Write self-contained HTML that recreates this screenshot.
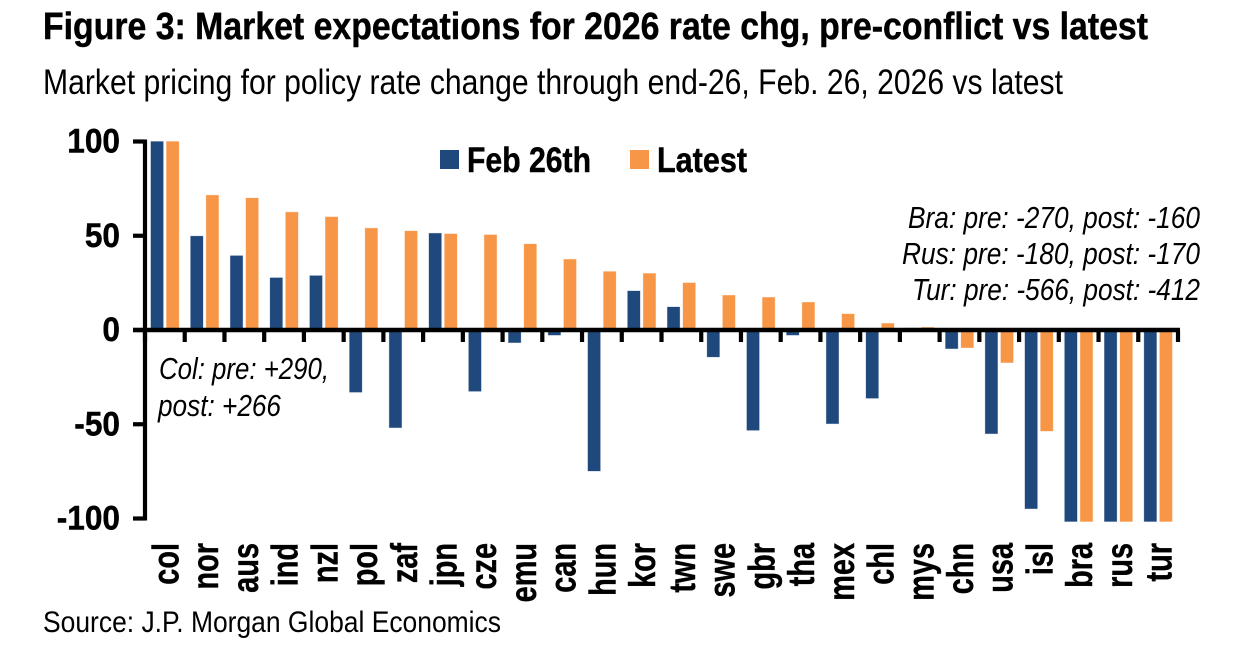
<!DOCTYPE html>
<html>
<head>
<meta charset="utf-8">
<style>
html,body{margin:0;padding:0;background:#fff;width:1245px;height:667px;overflow:hidden}
svg{display:block}
text{font-family:"Liberation Sans",Arial,sans-serif;fill:#000}
.b{font-weight:700;stroke:#000;stroke-width:0.45}
.i{font-style:italic}
</style>
</head>
<body>
<svg id="chart" width="1245" height="667" viewBox="0 0 1245 667" xmlns="http://www.w3.org/2000/svg">
<text class="b" x="43" y="39" font-size="38" textLength="1105" lengthAdjust="spacingAndGlyphs">Figure 3: Market expectations for 2026 rate chg, pre-conflict vs latest</text>
<text x="43" y="94" font-size="35" textLength="1020" lengthAdjust="spacingAndGlyphs">Market pricing for policy rate change through end-26, Feb. 26, 2026 vs latest</text>
<g id="bars"></g>
<g id="axes"></g>
<g>
<rect x="440" y="150" width="19" height="19" fill="#1f497d"/>
<text class="b" x="467" y="172" font-size="35" textLength="124" lengthAdjust="spacingAndGlyphs">Feb 26th</text>
<rect x="630" y="150" width="19" height="19" fill="#f79646"/>
<text class="b" x="657" y="172" font-size="35" textLength="90" lengthAdjust="spacingAndGlyphs">Latest</text>
</g>
<g class="i" font-size="31" text-anchor="end">
<text class="i" x="1200" y="228" text-anchor="end" textLength="292" lengthAdjust="spacingAndGlyphs">Bra: pre: -270, post: -160</text>
<text class="i" x="1200" y="264" text-anchor="end" textLength="298" lengthAdjust="spacingAndGlyphs">Rus: pre: -180, post: -170</text>
<text class="i" x="1200" y="300" text-anchor="end" textLength="288" lengthAdjust="spacingAndGlyphs">Tur: pre: -566, post: -412</text>
</g>
<g class="i" font-size="31">
<text class="i" x="159" y="379" textLength="170" lengthAdjust="spacingAndGlyphs">Col: pre: +290,</text>
<text class="i" x="158" y="416" textLength="123" lengthAdjust="spacingAndGlyphs">post: +266</text>
</g>
<text x="43" y="632" font-size="30" textLength="458" lengthAdjust="spacingAndGlyphs">Source: J.P. Morgan Global Economics</text>
</svg>
<script>
var categories = ["col","nor","aus","ind","nzl","pol","zaf","jpn","cze","emu","can","hun","kor","twn","swe","gbr","tha","mex","chl","mys","chn","usa","isl","bra","rus","tur"];
var feb26 = [100,49.8,39.4,27.7,28.8,-33,-51.8,51.3,-32.5,-6.7,-2.7,-74.8,20.7,12.2,-14.3,-53.2,-2.7,-49.7,-36.2,1,-9.9,-55,-94.8,-270,-180,-566];
var latest = [100,71.5,70,62.5,60,54,52.5,51,50.5,45.6,37.5,31,30,25,18.4,17.3,14.7,8.5,3.5,1.4,-9.4,-17.3,-53.6,-160,-170,-412];
var yTicks = [100,50,0,-50,-100];
var NS = "http://www.w3.org/2000/svg";
var barsG = document.getElementById("bars");
var axesG = document.getElementById("axes");
var plotLeft = 145, plotRight = 1178, zeroY = 330, unit = 1.885;
var yMax = 100, yMin = -101.6;
var step = (plotRight - plotLeft) / categories.length;
var barW = 12.4, barGap = 3.2;
function clampV(v){ return Math.max(yMin, Math.min(yMax, v)); }
function yPos(v){ return zeroY - v * unit; }
function xPos(i){ return plotLeft + step * i; }
function make(tag, attrs, parent){
  var el = document.createElementNS(NS, tag);
  for (var k in attrs) el.setAttribute(k, attrs[k]);
  parent.appendChild(el);
  return el;
}
function drawBar(i, v, series, color){
  var c = clampV(v);
  var center = xPos(i) + step / 2;
  var x = series === 0 ? center - barGap / 2 - barW : center + barGap / 2;
  var y0 = yPos(Math.max(c, 0)), y1 = yPos(Math.min(c, 0));
  var r = make("rect", {x: x, y: y0, width: barW, height: Math.max(y1 - y0, 0.5), fill: color, stroke: color, "stroke-opacity": 0.35, "stroke-width": 0.8}, barsG);
  
  
}
categories.forEach(function(cat, i){
  drawBar(i, feb26[i], 0, "#1f497d");
  drawBar(i, latest[i], 1, "#f79646");
  var center = xPos(i) + step / 2;
  var t = make("text", {"class": "b", "text-anchor": "end", "font-size": 37, transform: "translate(" + (center + 13.5) + ",543) rotate(-90) scale(0.78,1)"}, axesG);
  t.textContent = cat;
  
  
});
var yAxis = make("line", {x1: plotLeft, x2: plotLeft, y1: yPos(100) - 2, y2: yPos(-100) + 2, stroke: "#000", "stroke-width": 4.2}, axesG);


var xAxis = make("line", {x1: plotLeft - 12, x2: plotRight + 2, y1: zeroY, y2: zeroY, stroke: "#000", "stroke-width": 4.4}, axesG);


for (var j = 0; j <= categories.length; j++){
  var tick = make("line", {x1: xPos(j), x2: xPos(j), y1: zeroY, y2: zeroY + 12, stroke: "#000", "stroke-width": 4.2}, axesG);
  
  
}
yTicks.forEach(function(v){
  var m = make("line", {x1: plotLeft - 12, x2: plotLeft, y1: yPos(v), y2: yPos(v), stroke: "#000", "stroke-width": 4.2}, axesG);
  
  
  var l = make("text", {"class": "b", "text-anchor": "end", "font-size": 34, transform: "translate(120," + (yPos(v) + 11) + ") scale(0.93,1)"}, axesG);
  l.textContent = String(v);
  
  
});
</script>
</body>
</html>
